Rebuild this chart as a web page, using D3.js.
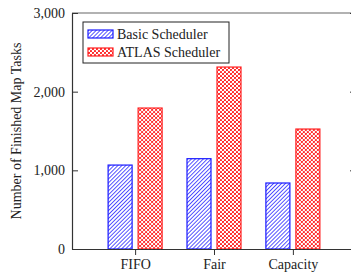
<!DOCTYPE html>
<html lang="en">
  <head>
    <meta charset="UTF-8" />
    <title>Finished Map Tasks</title>
    <style>
      body { margin: 0; background: #fff; }
      text { font-family: "Liberation Serif", "DejaVu Serif", serif; fill: #222; }
    </style>
  </head>
  <body>
    <svg id="svg" width="351" height="276"></svg>
    <script src="https://d3js.org/d3.v7.min.js"></script>
    <script>
      // data
      const schedulers = ["FIFO", "Fair", "Capacity"];
      const seriesNames = ["Basic Scheduler", "ATLAS Scheduler"];
      const basicValues = [1067, 1148, 839];
      const atlasValues = [1792, 2313, 1525];
      const yTicks = [0, 1000, 2000, 3000];

      const margin = { top: 13, right: -5, bottom: 27, left: 72 };
      const svgWidth = 351;
      const svgHeight = 276;
      const width = svgWidth - margin.left - margin.right;
      const height = svgHeight - margin.top - margin.bottom;

      const svg = d3.select("#svg");

      // patterns
      const defs = svg.append("defs");
      const hatch = defs
        .append("pattern")
        .attr("id", "hatch")
        .attr("patternUnits", "userSpaceOnUse")
        .attr("width", 2.8)
        .attr("height", 2.8)
        .attr("patternTransform", "rotate(45)");
      hatch.append("rect").attr("width", 2.8).attr("height", 2.8).attr("fill", "#fff");
      hatch
        .append("line")
        .attr("x1", 0).attr("y1", 0).attr("x2", 0).attr("y2", 2.8)
        .attr("stroke", "#1e1eff")
        .attr("stroke-width", 1.5);

      const dots = defs
        .append("pattern")
        .attr("id", "dots")
        .attr("patternUnits", "userSpaceOnUse")
        .attr("width", 4)
        .attr("height", 4);
      dots.append("rect").attr("width", 4).attr("height", 4).attr("fill", "#fff");
      dots.append("circle").attr("cx", 1).attr("cy", 1).attr("r", 1.1).attr("fill", "#ff1a1a");
      dots.append("circle").attr("cx", 3).attr("cy", 3).attr("r", 1.1).attr("fill", "#ff1a1a");

      const chart = svg
        .append("g")
        .attr("transform", `translate(${margin.left}, ${margin.top})`);

      // scales
      const x0 = d3.scalePoint().domain(schedulers).range([0, width]).padding(0.8);
      const x1 = d3.scaleBand().domain(seriesNames).range([-27, 27]).paddingInner(0.2);
      const y = d3.scaleLinear().domain([0, 3000]).range([height, 0]);

      const fills = { "Basic Scheduler": "url(#hatch)", "ATLAS Scheduler": "url(#dots)" };
      const strokes = { "Basic Scheduler": "#1a1aff", "ATLAS Scheduler": "#ff2020" };

      const rows = schedulers.map((s, i) => ({
        name: s,
        values: [
          { key: seriesNames[0], value: basicValues[i] },
          { key: seriesNames[1], value: atlasValues[i] },
        ],
      }));

      // bars
      chart
        .append("g")
        .selectAll("g")
        .data(rows)
        .join("g")
        .attr("transform", (d) => `translate(${x0(d.name)}, 0)`)
        .selectAll("rect")
        .data((d) => d.values)
        .join("rect")
        .attr("x", (d) => x1(d.key))
        .attr("y", (d) => y(d.value))
        .attr("width", x1.bandwidth())
        .attr("height", (d) => height - y(d.value))
        .attr("fill", (d) => fills[d.key])
        .attr("stroke", (d) => strokes[d.key])
        .attr("stroke-width", 1.2);

      // frame lines
      chart.append("line")
        .attr("x1", 0).attr("x2", width).attr("y1", 0).attr("y2", 0)
        .attr("stroke", "#666").attr("stroke-width", 1.2);
      chart.append("line")
        .attr("x1", width).attr("x2", width).attr("y1", 0).attr("y2", height)
        .attr("stroke", "#333");

      // x axis
      const xAxis = chart
        .append("g")
        .attr("transform", `translate(0, ${height})`)
        .call(d3.axisBottom(x0).tickSize(6).tickSizeOuter(0).tickPadding(4));
      xAxis.select(".domain").attr("stroke", "#333").attr("stroke-width", 1.2);
      xAxis.selectAll(".tick line").attr("stroke", "#333");
      xAxis.selectAll("text").attr("font-size", 14).attr("fill", "#222");

      // y axis (ticks inward)
      const yAxis = chart
        .append("g")
        .call(d3.axisLeft(y).tickValues(yTicks).tickFormat(d3.format(",")).tickSize(-6).tickSizeOuter(0).tickPadding(7));
      yAxis.select(".domain").attr("stroke", "#333").attr("stroke-width", 1.2);
      yAxis.selectAll(".tick line").attr("stroke", "#333");
      yAxis.selectAll("text").attr("font-size", 14).attr("fill", "#222");

      // right axis ticks
      chart
        .append("g")
        .attr("transform", `translate(${width}, 0)`)
        .call(d3.axisRight(y).tickValues(yTicks).tickSize(-6).tickSizeOuter(0).tickFormat(""))
        .call((g) => g.select(".domain").remove())
        .selectAll(".tick line").attr("stroke", "#333");

      // y label
      svg
        .append("text")
        .attr("transform", `translate(21, ${margin.top + height / 2}) rotate(-90)`)
        .attr("text-anchor", "middle")
        .attr("font-size", 14)
        .text("Number of Finished Map Tasks");

      // legend
      const legend = chart.append("g").attr("transform", "translate(11, 9)");
      legend
        .append("rect")
        .attr("width", 146)
        .attr("height", 41)
        .attr("fill", "#fff")
        .attr("stroke", "#222")
        .attr("stroke-width", 1);
      seriesNames.forEach((name, i) => {
        const row = legend.append("g").attr("transform", `translate(5, ${8 + i * 18})`);
        row
          .append("rect")
          .attr("width", 25)
          .attr("height", 8)
          .attr("fill", fills[name])
          .attr("stroke", strokes[name])
          .attr("stroke-width", 1.2);
        row
          .append("text")
          .attr("x", 29)
          .attr("y", 8.5)
          .attr("font-size", 14)
          .text(name);
      });
    </script>
  </body>
</html>
